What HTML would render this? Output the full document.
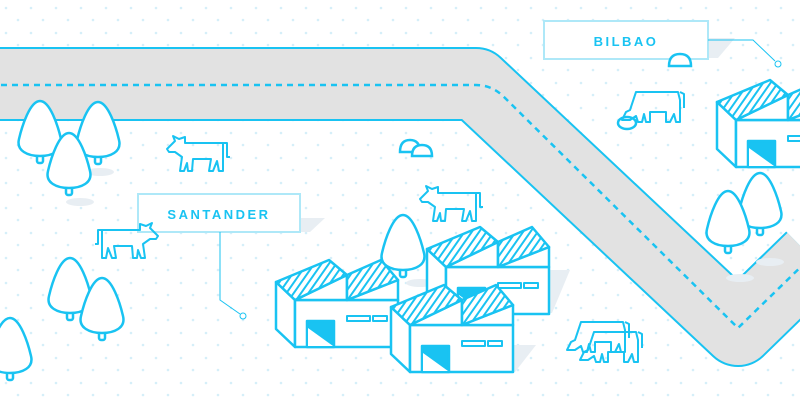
<!DOCTYPE html>
<html><head><meta charset="utf-8"><style>
html,body{margin:0;padding:0;background:#fff;}
svg{display:block;}
text{font-family:"Liberation Sans",sans-serif;font-weight:bold;}
</style></head><body>
<svg width="800" height="400" viewBox="0 0 800 400" xmlns="http://www.w3.org/2000/svg">
<defs>
<pattern id="dots" width="25" height="25" patternUnits="userSpaceOnUse">
<circle cx="6" cy="8" r="1.3" fill="#d5eff9"/><circle cx="18" cy="20" r="1.3" fill="#d5eff9"/>
</pattern>
<pattern id="hatch" width="6" height="6" patternUnits="userSpaceOnUse" patternTransform="rotate(35)">
<rect width="6" height="6" fill="#fff"/><rect width="2" height="6" fill="#19c3f2"/>
</pattern>
<g id="tree">
<rect x="-3" y="52" width="6" height="10" rx="2" fill="#fff" stroke="#19c3f2" stroke-width="2.5"/>
<path d="M0,0 C10,0 18,25 21,38 C24,50 12,55 0,55 C-12,55 -24,50 -21,38 C-18,25 -10,0 0,0 Z" fill="#fff" stroke="#19c3f2" stroke-width="2.5"/>
</g>
<g id="cow" fill="none" stroke="#19c3f2" stroke-width="2" stroke-linejoin="round">
<path d="M2,16 L10,8 L8,3 L14,6 L20,4 L20,10 L58,10 L58,38 L54,38 L52,28 L48,38 L44,38 L46,26 L28,26 L27,38 L23,38 L22,30 L19,38 L15,38 L17,24 L10,19 L4,19 Z M58,10 L62,10 L62,24 L65,24"/>
</g>
<g id="gcow" fill="none" stroke="#19c3f2" stroke-width="2" stroke-linejoin="round">
<path d="M2,34 L6,26 L10,24 L16,6 L58,6 L60,14 L60,36 L56,36 L54,28 L50,36 L46,36 L46,26 L30,26 L30,36 L26,36 L24,28 L22,36 L18,36 L16,30 L10,34 Z M60,6 L64,8 L64,22"/>
</g>
<g id="fac" stroke="#19c3f2" stroke-width="2.5" stroke-linejoin="round">
<polygon points="-19,-18 0,0 0,47 -19,29" fill="#fff"/>
<rect x="0" y="0" width="103" height="47" fill="#fff"/>
<polygon points="0,0 52,-25 52,0" fill="#fff"/>
<polygon points="52,0 103,-20 103,0" fill="#fff"/>
<polygon points="-19,-18 34,-40 52,-25 0,0" fill="url(#hatch)"/>
<polygon points="52,-25 86,-40 103,-20 52,0" fill="url(#hatch)"/>
<rect x="52" y="16" width="23" height="5" fill="#fff" stroke-width="2"/>
<rect x="78" y="16" width="14" height="5" fill="#fff" stroke-width="2"/>
<rect x="12" y="21" width="27" height="26" fill="#19c3f2"/>
<polygon points="13,28 38,46 13,46" fill="#fff" stroke="none"/>
</g>
</defs>
<rect width="800" height="400" fill="url(#dots)"/>
<!-- road -->
<path d="M-10,84 L476,84 L738,330 L812,258" fill="none" stroke="#19c3f2" stroke-width="74" stroke-linejoin="round"/>
<path d="M-10,84 L476,84 L738,330 L812,258" fill="none" stroke="#e2e2e2" stroke-width="70" stroke-linejoin="round"/>
<path d="M-10,85 L476,85 Q492,85 504,97 L738,328 L812,256" fill="none" stroke="#19c3f2" stroke-width="2.5" stroke-dasharray="6,5"/>
<!-- shadows -->
<g fill="#e8eef3">
<polygon points="300,218 325,218 310,232 285,232"/>
<polygon points="708,38 735,38 718,58 700,58"/>
<polygon points="398,320 420,300 420,346 398,346"/>
<polygon points="549,270 570,270 552,313 549,313"/>
<polygon points="513,345 536,345 515,372 513,372"/>
<ellipse cx="100" cy="172" rx="14" ry="4"/><ellipse cx="80" cy="202" rx="14" ry="4"/>
<ellipse cx="770" cy="262" rx="14" ry="4"/><ellipse cx="740" cy="278" rx="14" ry="4"/>
<ellipse cx="420" cy="283" rx="14" ry="4"/>
</g>
<!-- trees -->
<use href="#tree" x="40" y="101"/>
<use href="#tree" x="98" y="102"/>
<use href="#tree" x="69" y="133"/>
<use href="#tree" x="70" y="258"/>
<use href="#tree" x="102" y="278"/>
<use href="#tree" x="10" y="318"/>
<use href="#tree" x="760" y="173"/>
<use href="#tree" x="728" y="191"/>
<!-- labels -->
<rect x="138" y="194" width="162" height="38" fill="#fff" stroke="#aee8f8" stroke-width="2"/>
<text x="219" y="219" font-size="13" fill="#19c3f2" text-anchor="middle" letter-spacing="2.5">SANTANDER</text>
<path d="M220,232 L220,300 L240,314" fill="none" stroke="#19c3f2" stroke-width="1"/>
<circle cx="243" cy="316" r="3" fill="#fff" stroke="#19c3f2" stroke-width="1"/>
<rect x="544" y="21" width="164" height="38" fill="#fff" stroke="#aee8f8" stroke-width="2"/>
<text x="626" y="46" font-size="13" fill="#19c3f2" text-anchor="middle" letter-spacing="2.5">BILBAO</text>
<path d="M708,40 L753,40 L775,61" fill="none" stroke="#19c3f2" stroke-width="1"/>
<circle cx="778" cy="64" r="3" fill="#fff" stroke="#19c3f2" stroke-width="1"/>
<!-- bushes -->
<g fill="#fff" stroke="#19c3f2" stroke-width="2.5">
<path d="M669,66 Q669,54 680,54 Q691,54 691,66 Z"/>
<path d="M400,152 Q400,140 410,140 Q420,140 420,152 Z"/>
<path d="M412,156 Q412,145 422,145 Q432,145 432,156 Z"/>
<ellipse cx="627" cy="123" rx="9" ry="6"/>
</g>
<!-- cows -->
<use href="#cow" x="165" y="133"/>
<use href="#cow" transform="translate(160,220) scale(-1,1)"/>
<use href="#cow" x="418" y="183"/>
<use href="#gcow" x="620" y="86"/>
<use href="#gcow" x="565" y="316"/>
<use href="#gcow" x="578" y="326"/>
<!-- factories -->
<use href="#fac" transform="translate(295,300)"/>
<use href="#tree" x="403" y="215"/>
<use href="#fac" transform="translate(446,267)"/>
<use href="#fac" transform="translate(410,325)"/>
<use href="#fac" transform="translate(736,120)"/>
</svg>
</body></html>
